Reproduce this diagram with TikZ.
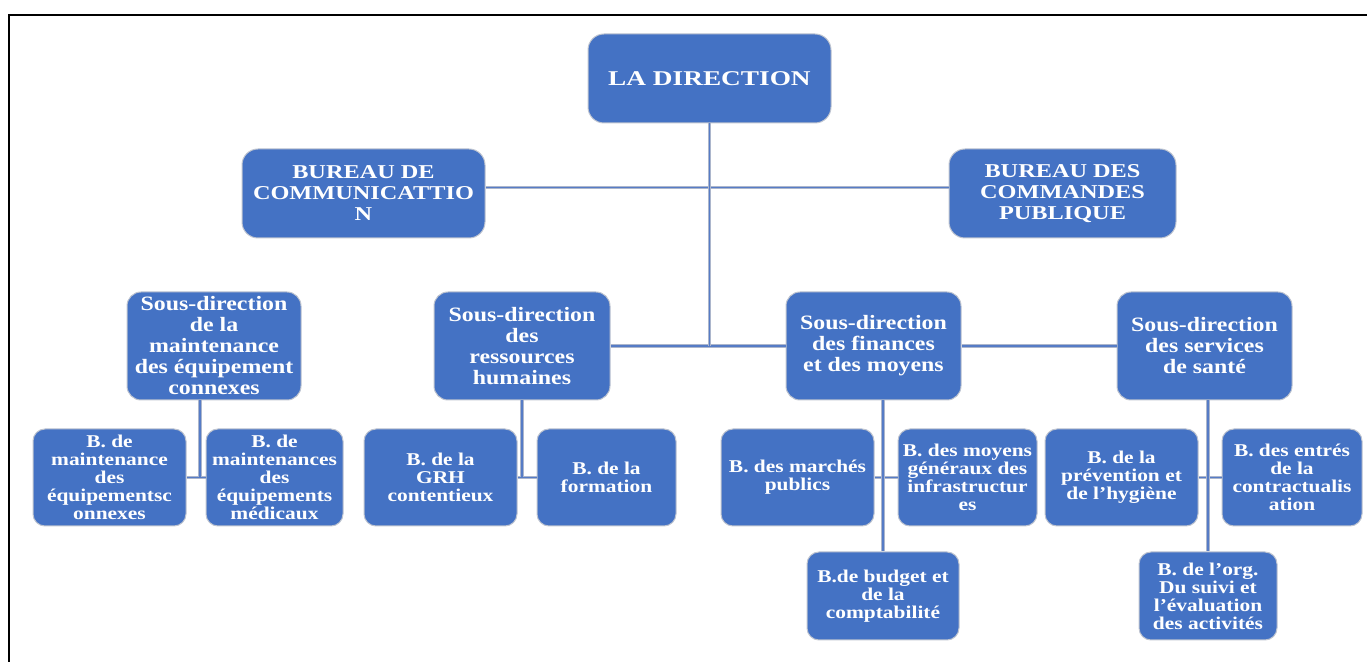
\documentclass[tikz,border=0pt]{standalone}
\usepackage{fontspec}
\usetikzlibrary{calc}
\setmainfont{Liberation Serif}
% stretched bold serif faces for the different box levels
\newfontfamily\fdir[FakeStretch=1.3]{Liberation Serif}
\newfontfamily\fbur[FakeStretch=1.24]{Liberation Serif}
\newfontfamily\fsd[FakeStretch=1.17]{Liberation Serif}
\newfontfamily\fbb[FakeStretch=1.19]{Liberation Serif}
\definecolor{boxblue}{RGB}{68,114,196}
\definecolor{boxedge}{RGB}{190,196,208}
\definecolor{linkgrey}{RGB}{172,182,204}
\definecolor{linkblue}{RGB}{86,124,198}
\begin{document}
\begin{tikzpicture}[x=0.5pt,y=-0.5pt,
  orgbox/.style={draw=boxedge, line width=0.5pt, fill=boxblue, text=white,
    align=center, inner sep=0pt},
  topbox/.style={orgbox, rounded corners=8pt, minimum height=44.5pt,
    font=\fdir\bfseries\fontsize{10.5}{12}\selectfont},
  burbox/.style={orgbox, rounded corners=8pt, minimum height=44.5pt,
    font=\fbur\bfseries\fontsize{9.8}{10.5}\selectfont},
  sdbox/.style={orgbox, rounded corners=7pt, minimum height=54pt, minimum width=87.5pt,
    font=\fsd\bfseries\fontsize{10.2}{10.5}\selectfont},
  bbox/.style={orgbox, rounded corners=6pt,
    font=\fbb\bfseries\fontsize{9}{9}\selectfont},
  link/.style={draw=linkgrey, double=linkblue, line width=0.45pt, double distance=0.8pt}]
\useasboundingbox (0,0) rectangle (1367,662);
% page frame (only the left and top edges fall inside the picture)
\draw[line width=1pt] (9,670) -- (9,15) -- (1375,15);

% head and staff offices
\node[topbox, minimum width=121.5pt] (dir) at (709.5,78.5) {LA DIRECTION};
\node[burbox, minimum width=121.5pt] (bc) at (363.5,193.5) {BUREAU DE\\COMMUNICATTIO\\N};
\node[burbox, minimum width=113.5pt] (bp) at (1062.5,193.5) {BUREAU DES\\COMMANDES\\PUBLIQUE};

% sub-directions
\node[sdbox, minimum width=87pt] (sdm) at (214,346) {Sous-direction\\de la\\maintenance\\des équipement\\connexes};
\node[sdbox, minimum width=88pt] (sdrh) at (522,346) {Sous-direction\\des\\ressources\\humaines};
\node[sdbox] (sdf) at (873.5,346) {Sous-direction\\des finances\\et des moyens};
\node[sdbox] (sds) at (1204.5,346) {Sous-direction\\des services\\de santé};

% offices, first row
\node[bbox, minimum width=76.5pt, minimum height=48.5pt] (b1) at (109.5,477.5) {B. de\\maintenance\\des\\équipementsc\\onnexes};
\node[bbox, minimum width=68.5pt, minimum height=48.5pt] (b2) at (274.5,477.5) {B. de\\maintenances\\des\\équipements\\médicaux};
\node[bbox, minimum width=76.5pt, minimum height=48.5pt] (b3) at (440.5,477.5) {B. de la\\GRH\\contentieux};
\node[bbox, minimum width=69.5pt, minimum height=48.5pt] (b4) at (606.5,477.5) {B. de la\\formation};
\node[bbox, minimum width=76.5pt, minimum height=48.5pt] (b5) at (797.5,477.5) {B. des marchés\\publics};
\node[bbox, minimum width=69.5pt, minimum height=48.5pt] (b6) at (967.5,477.5) {B. des moyens\\généraux des\\infrastructur\\es};
\node[bbox, minimum width=76.5pt, minimum height=48.5pt] (b7) at (1121.5,477.5) {B. de la\\prévention et\\de l’hygiène};
\node[bbox, minimum width=70pt, minimum height=48.5pt] (b8) at (1292,477.5) {B. des entrés\\de la\\contractualis\\ation};

% offices, second row
\node[bbox, minimum width=76pt, minimum height=44pt] (b9) at (883,596) {B.de budget et\\de la\\comptabilité};
\node[bbox, minimum width=69pt, minimum height=44pt] (b10) at (1208,596) {B. de l’org.\\Du suivi et\\l’évaluation\\des activités};

% connectors
\draw[link] ([yshift=3pt]bc.east) -- ([yshift=3pt]bp.west);
\draw[link] (sdrh.east) -- (sdf.west);
\draw[link] (sdf.east) -- (sds.west);
\draw[link] (dir.south) -- (dir.south |- sdrh.east);

\coordinate (j1) at ($(b1.east)!0.5!(b2.west)$);
\draw[link] (b1.east) -- (b2.west);
\draw[link] ([xshift=2pt]j1 |- sdm.south) -- ([xshift=2pt]j1);

\draw[link] (b3.east) -- (b4.west);
\draw[link] (sdrh.south) -- (sdrh.south |- b3.east);

\draw[link] (b5.east) -- (b6.west);
\draw[link] (b9.north |- sdf.south) -- (b9.north);

\draw[link] (b7.east) -- (b8.west);
\draw[link] (b10.north |- sds.south) -- (b10.north);
\end{tikzpicture}
\end{document}
